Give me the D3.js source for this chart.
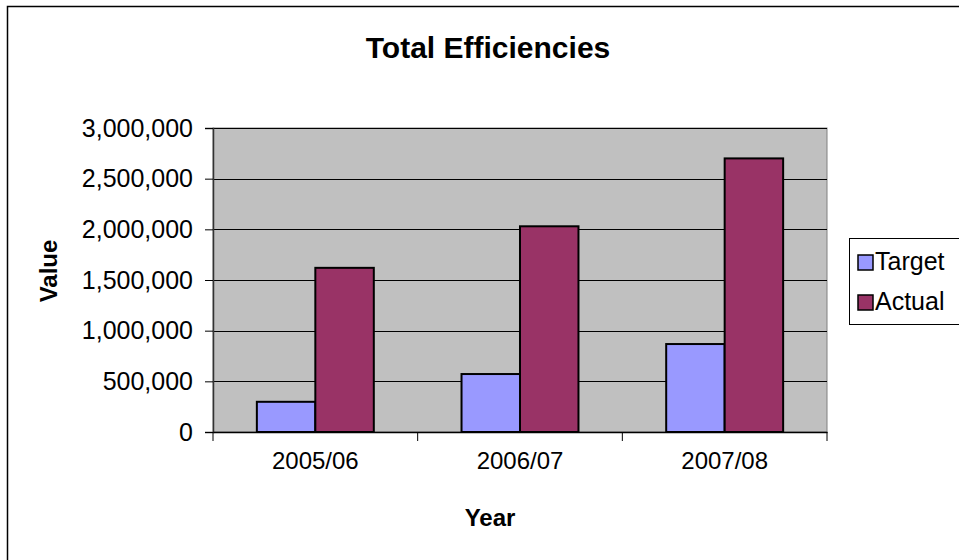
<!DOCTYPE html>
<html>
<head>
<meta charset="utf-8">
<script src="https://cdn.jsdelivr.net/npm/d3@7"></script>
<style>
  body { margin: 0; background: #fff; }
  text { font-family: "Liberation Sans", Arial, sans-serif; fill: #000; }
</style>
</head>
<body>
<div id="chart"></div>
<script>
const years = ['2005/06', '2006/07', '2007/08'];
const seriesNames = ['Target', 'Actual'];
const target = [298000, 572000, 868000];
const actual = [1620000, 2030000, 2700000];
const yTicks = [0, 500000, 1000000, 1500000, 2000000, 2500000, 3000000];
const colors = ['#9999FF', '#993366'];

const W = 959, H = 560;
const plot = { left: 213, top: 128, right: 827, bottom: 432 };

const svg = d3.select('#chart').append('svg')
  .attr('width', W)
  .attr('height', H);

// outer chart border (right/bottom run off the canvas)
svg.append('rect')
  .attr('x', 7.5).attr('y', 6.5)
  .attr('width', W + 10).attr('height', H + 10)
  .attr('fill', '#fff')
  .attr('stroke', '#000')
  .attr('stroke-width', 1.5);

const x0 = d3.scaleBand()
  .domain(years)
  .range([plot.left, plot.right]);

// Excel gap width 150%: two bars + 1.5 bar gap
const barW = x0.bandwidth() / 3.5;
const x1 = d3.scaleBand()
  .domain(seriesNames)
  .range([0, barW * 2]);

const y = d3.scaleLinear()
  .domain([0, 3000000])
  .range([plot.bottom, plot.top]);

// plot area
svg.append('rect')
  .attr('x', plot.left).attr('y', plot.top)
  .attr('width', plot.right - plot.left)
  .attr('height', plot.bottom - plot.top)
  .attr('fill', '#C0C0C0')
  .attr('stroke', '#808080')
  .attr('stroke-width', 1);

// gridlines
svg.append('g')
  .selectAll('line')
  .data(yTicks.filter(d => d > 0))
  .join('line')
  .attr('x1', plot.left).attr('x2', plot.right)
  .attr('y1', d => Math.round(y(d)) + 0.5)
  .attr('y2', d => Math.round(y(d)) + 0.5)
  .attr('stroke', '#000')
  .attr('stroke-width', 1);

// bars
const rows = years.map((yr, i) => ({ year: yr, values: [target[i], actual[i]] }));
svg.append('g')
  .selectAll('g')
  .data(rows)
  .join('g')
  .attr('transform', d => `translate(${x0(d.year) + (x0.bandwidth() - barW * 2) / 2},0)`)
  .selectAll('rect')
  .data(d => d.values.map((v, j) => ({ key: seriesNames[j], v, j })))
  .join('rect')
  .attr('x', d => x1(d.key))
  .attr('y', d => y(d.v))
  .attr('width', x1.bandwidth())
  .attr('height', d => y(0) - y(d.v))
  .attr('fill', d => colors[d.j])
  .attr('stroke', '#000')
  .attr('stroke-width', 2);

// y axis
const yAxis = svg.append('g')
  .attr('transform', `translate(${plot.left},0)`)
  .call(d3.axisLeft(y).tickValues(yTicks).tickFormat(d3.format(',')).tickSize(8).tickPadding(12));
yAxis.select('.domain').attr('stroke', '#333').attr('stroke-width', 1.5);
yAxis.selectAll('.tick line').attr('stroke', '#000');
yAxis.selectAll('.tick text')
  .style('font-family', '"Liberation Sans", Arial, sans-serif')
  .style('font-size', '25px')
  .attr('fill', '#000');

// x axis
const xAxis = svg.append('g')
  .attr('transform', `translate(0,${plot.bottom})`)
  .call(d3.axisBottom(x0).tickSize(0).tickPadding(20));
xAxis.select('.domain').attr('stroke', '#000').attr('stroke-width', 1.5);
xAxis.selectAll('.tick text')
  .style('font-family', '"Liberation Sans", Arial, sans-serif')
  .style('font-size', '24px')
  .attr('fill', '#000');

// category separators
svg.append('g')
  .selectAll('line')
  .data(years.map(d => x0(d)).concat([plot.right]))
  .join('line')
  .attr('x1', d => d).attr('x2', d => d)
  .attr('y1', plot.bottom).attr('y2', plot.bottom + 9)
  .attr('stroke', '#000');

// titles
svg.append('text')
  .attr('x', 488).attr('y', 58)
  .attr('text-anchor', 'middle')
  .style('font-size', '30px')
  .style('font-weight', 'bold')
  .text('Total Efficiencies');

svg.append('text')
  .attr('x', 490).attr('y', 526)
  .attr('text-anchor', 'middle')
  .style('font-size', '24px')
  .style('font-weight', 'bold')
  .text('Year');

svg.append('text')
  .attr('transform', 'translate(57,271) rotate(-90)')
  .attr('text-anchor', 'middle')
  .style('font-size', '24px')
  .style('font-weight', 'bold')
  .text('Value');

// legend
const legend = svg.append('g');
legend.append('rect')
  .attr('x', 849.5).attr('y', 238.5)
  .attr('width', 130).attr('height', 86)
  .attr('fill', '#fff')
  .attr('stroke', '#000');
const li = legend.selectAll('g.item')
  .data(seriesNames)
  .join('g')
  .attr('class', 'item')
  .attr('transform', (d, i) => `translate(858,${255 + i * 40})`);
li.append('rect')
  .attr('width', 15).attr('height', 15)
  .attr('fill', (d, i) => colors[i])
  .attr('stroke', '#000')
  .attr('stroke-width', 1.5);
li.append('text')
  .attr('x', 17).attr('y', 15)
  .style('font-size', '25px')
  .text(d => d);
</script>
</body>
</html>
